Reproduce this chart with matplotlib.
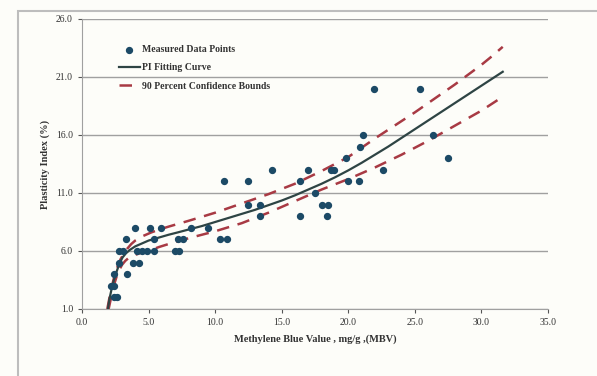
import matplotlib
matplotlib.use("Agg")
import matplotlib.pyplot as plt
from matplotlib.patches import Rectangle

# Measured data points (MBV, PI)
mbv = [2.2, 2.4, 2.4, 2.6, 2.4, 2.8, 2.8, 3.1, 3.3, 3.4, 3.8, 4.3, 4.0, 4.1, 4.5, 4.9,
       5.1, 5.4, 5.4, 5.9, 7.0, 7.3, 7.2, 7.6, 8.2, 9.5, 10.4, 10.9, 10.7, 12.5, 12.5,
       13.4, 13.4, 14.3, 16.4, 16.4, 17.0, 17.5, 18.0, 18.5, 18.4, 18.7, 18.9, 19.8,
       20.0, 20.8, 20.9, 21.1, 21.9, 22.6, 25.4, 26.4, 27.5]
pi = [3.0, 3.0, 2.0, 2.0, 4.0, 5.0, 6.0, 6.0, 7.0, 4.0, 5.0, 5.0, 8.0, 6.0, 6.0, 6.0,
      8.0, 7.0, 6.0, 8.0, 6.0, 6.0, 7.0, 7.0, 8.0, 8.0, 7.0, 7.0, 12.0, 12.0, 10.0,
      10.0, 9.0, 13.0, 9.0, 12.0, 13.0, 11.0, 10.0, 10.0, 9.0, 13.0, 13.0, 14.0,
      12.0, 12.0, 15.0, 16.0, 20.0, 13.0, 20.0, 16.0, 14.0]

# Fitting curve
fit_x = [1.95, 2.05, 2.2, 2.35, 2.5, 2.7, 2.85, 3.05, 3.3, 3.6, 4.0, 4.5, 5.0, 5.75,
         6.5, 7.25, 8.0, 9.0, 10.0, 11.0, 12.0, 13.0, 14.0, 15.0, 16.0, 17.0, 18.0,
         19.0, 20.0, 21.0, 22.0, 23.0, 24.0, 25.0, 26.0, 27.0, 28.0, 29.0, 30.0,
         30.8, 31.6]
fit_y = [1.0, 1.8, 2.6, 3.3, 3.9, 4.55, 5.0, 5.45, 5.8, 6.1, 6.4, 6.65, 6.9, 7.15,
         7.4, 7.62, 7.85, 8.15, 8.5, 8.85, 9.2, 9.55, 9.95, 10.35, 10.8, 11.3, 11.8,
         12.35, 12.95, 13.6, 14.3, 15.0, 15.75, 16.5, 17.25, 18.0, 18.75, 19.5, 20.25,
         20.85, 21.45]

# Upper 90 % confidence bound
up_x = [1.9, 2.05, 2.2, 2.35, 2.5, 2.7, 2.9, 3.15, 3.4, 3.7, 4.0, 4.5, 5.2, 5.8,
        6.5, 7.25, 8.0, 9.0, 10.0, 11.0, 12.0, 13.0, 14.0, 15.0, 16.0, 17.0, 18.0,
        19.0, 20.0, 21.0, 22.0, 23.0, 24.0, 25.0, 26.0, 27.0, 28.0, 29.0, 30.0,
        30.8, 31.6]
up_y = [1.0, 1.9, 2.7, 3.45, 4.1, 4.75, 5.3, 5.8, 6.2, 6.6, 6.9, 7.25, 7.6, 7.85,
        8.1, 8.35, 8.6, 8.95, 9.3, 9.7, 10.1, 10.5, 10.9, 11.35, 11.8, 12.35, 12.9,
        13.5, 14.1, 14.9, 15.7, 16.45, 17.2, 17.95, 18.75, 19.55, 20.35, 21.2, 22.05,
        22.8, 23.6]

# Lower 90 % confidence bound
lo_x = [2.0, 2.15, 2.3, 2.45, 2.6, 2.8, 3.0, 3.25, 3.5, 3.8, 4.2, 4.7, 5.2, 5.8,
        6.5, 7.25, 8.0, 9.0, 10.0, 11.0, 12.0, 13.0, 14.0, 15.0, 16.0, 17.0, 18.0,
        19.0, 20.0, 21.0, 22.0, 23.0, 24.0, 25.0, 26.0, 27.0, 28.0, 29.0, 30.0,
        30.8, 31.6]
lo_y = [1.0, 1.8, 2.6, 3.25, 3.8, 4.35, 4.8, 5.15, 5.4, 5.6, 5.75, 5.95, 6.1, 6.35,
        6.6, 6.85, 7.1, 7.4, 7.7, 8.05, 8.4, 8.85, 9.3, 9.8, 10.3, 10.8, 11.3, 11.75,
        12.2, 12.7, 13.2, 13.75, 14.3, 14.9, 15.5, 16.15, 16.8, 17.45, 18.1, 18.7,
        19.3]

xticks = [0, 5, 10, 15, 20, 25, 30, 35]
yticks = [1, 6, 11, 16, 21, 26]

plt.rcParams['font.family'] = ['Liberation Serif', 'DejaVu Serif']

fig = plt.figure(figsize=(5.97, 3.76), dpi=100)
fig.patch.set_facecolor('#fdfdf9')
fig.patches.append(Rectangle((18/597, -0.05), 1.0, 1 - 11/376 + 0.05, transform=fig.transFigure,
                             fill=False, edgecolor='#bdbdbd', linewidth=1.5))

ax = fig.add_axes([82/597, 1 - 309/376, (548 - 82)/597, (309 - 19)/376])
ax.set_facecolor('#fdfdf9')

ax.plot(up_x, up_y, color='#a83a44', linewidth=1.8, dashes=(5, 3.5),
        label='90 Percent Confidence Bounds', zorder=3)
ax.plot(lo_x, lo_y, color='#a83a44', linewidth=1.8, dashes=(5, 3.5), zorder=3)
ax.plot(fit_x, fit_y, color='#2e4444', linewidth=1.6, label='PI Fitting Curve', zorder=4)
ax.scatter(mbv, pi, s=18, color='#1c4a66', label='Measured Data Points', zorder=5)

ax.set_xlim(0, 35)
ax.set_ylim(1, 26)
ax.set_xticks(xticks)
ax.set_yticks(yticks)
ax.set_xticklabels([f'{v:.1f}' for v in xticks])
ax.set_yticklabels([f'{v:.1f}' for v in yticks])
ax.tick_params(axis='both', labelsize=7, colors='#555555', labelcolor='#333333', length=3)
ax.yaxis.grid(True, color='#a0a0a0', linewidth=1.0)
ax.set_axisbelow(True)
for s in ['top', 'right']:
    ax.spines[s].set_visible(False)
ax.spines['left'].set_color('#a0a0a0')
ax.spines['bottom'].set_color('#a0a0a0')

ax.set_xlabel('Methylene Blue Value , mg/g ,(MBV)', fontsize=7.5, fontweight='bold',
              color='#333333', labelpad=5)
ax.set_ylabel('Plasticity Index (%)', fontsize=7.5, fontweight='bold', color='#333333',
              labelpad=4)

handles, labels = ax.get_legend_handles_labels()
order = [2, 1, 0]
leg = ax.legend([handles[i] for i in order], [labels[i] for i in order],
                loc='upper left', bbox_to_anchor=(0.06, 0.94), frameon=False,
                fontsize=7, handlelength=2.2, handletextpad=0.2, labelspacing=0.95)
for t in leg.get_texts():
    t.set_fontweight('bold')
    t.set_color('#333333')

fig.savefig('out.png', dpi=100, facecolor=fig.get_facecolor())
